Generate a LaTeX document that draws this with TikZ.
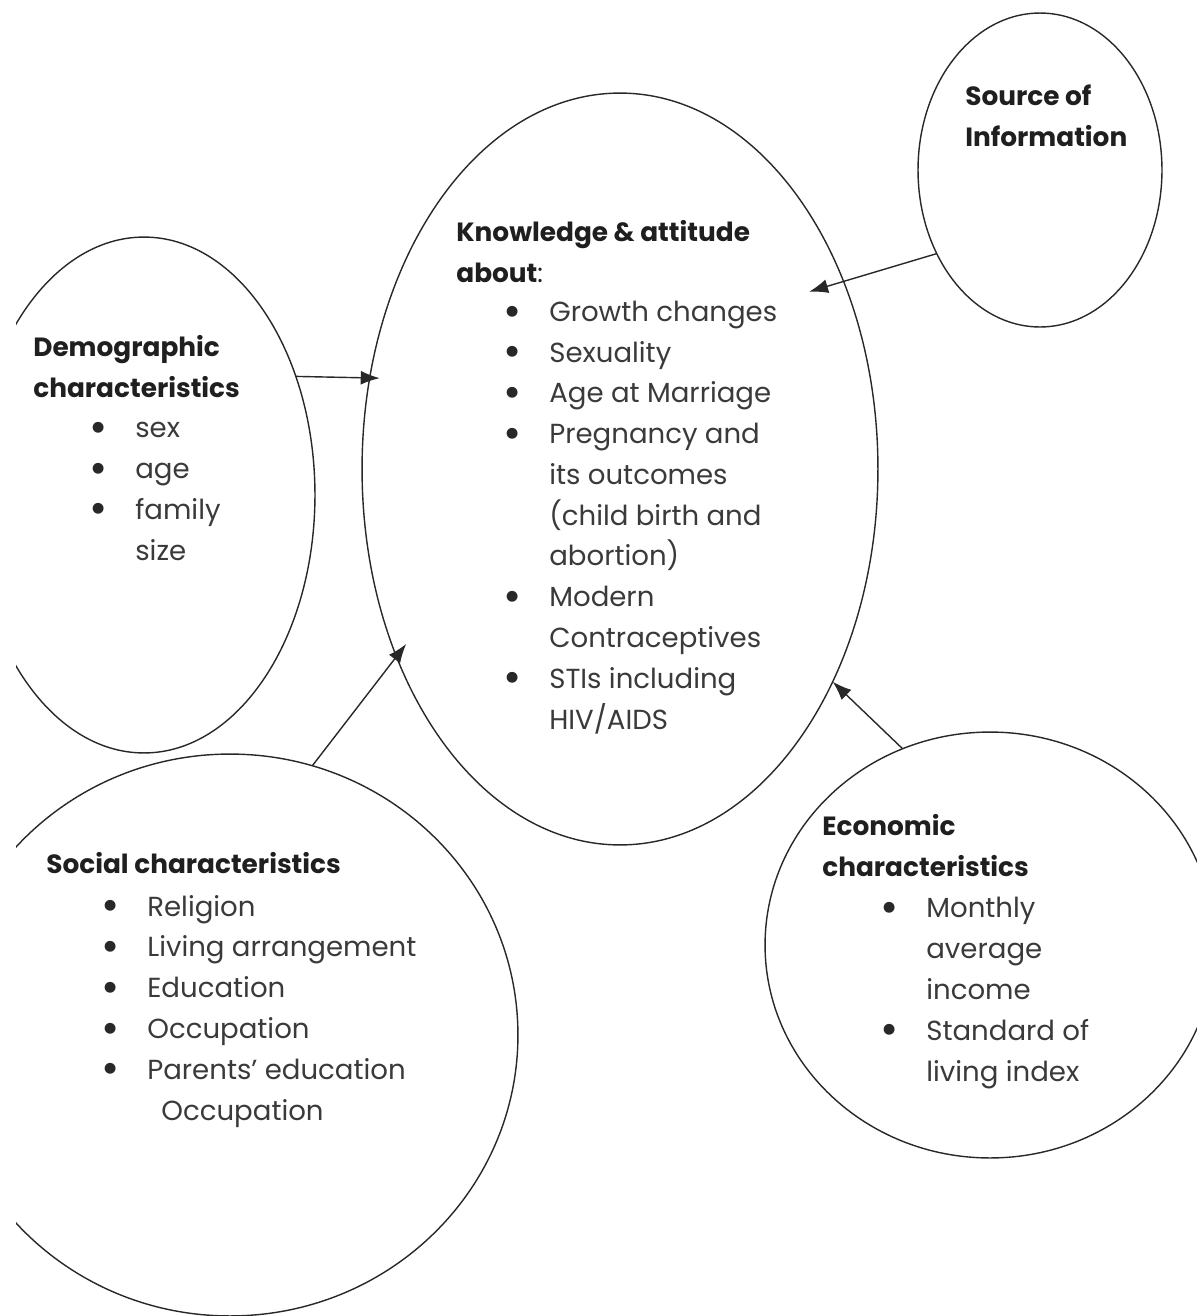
\documentclass[tikz,border=0pt]{standalone}
\usepackage{fontspec}
\setmainfont{Poppins}
\usetikzlibrary{shapes.geometric, arrows.meta}
\definecolor{inkgray}{RGB}{40,40,40}
\definecolor{txtgray}{RGB}{58,58,58}
% bullet column and continuation indent
\newcommand{\bl}{\makebox[0.92cm][l]{\raisebox{-0.17em}{\scalebox{1.6}{\textcolor{inkgray}{\textbullet}}}}}
\newcommand{\cl}{\hspace*{0.92cm}}

\begin{document}
\begin{tikzpicture}[x=0.02cm, y=-0.02cm,
  bubble/.style={ellipse, draw=inkgray, line width=0.8pt, inner sep=0pt, outer sep=0pt},
  head/.style={anchor=base west, inner sep=0pt, align=left, text=black!88, font=\fontsize{15}{23.2}\selectfont\bfseries},
  items/.style={anchor=base west, inner sep=0pt, align=left, text=txtgray, font=\fontsize{15.7}{23.2}\selectfont},
  arr/.style={draw=inkgray, line width=0.8pt, -{Latex[length=0.38cm, width=0.28cm]}}
]
  \useasboundingbox (0,0) rectangle (1197,1316);

  % the five bubbles, cut at the left margin
  \begin{scope}
    \clip (16,0) rectangle (1197,1316);
    \node[bubble, minimum width=10.32cm, minimum height=15.04cm] (know) at (620,469) {};
    \node[bubble, minimum width=4.88cm, minimum height=6.28cm] (source) at (1040,170) {};
    \node[bubble, minimum width=6.84cm, minimum height=10.32cm] (demog) at (144,495) {};
    \node[bubble, minimum width=11.52cm, minimum height=11.24cm] (social) at (230,1035) {};
    \node[bubble, minimum width=9.0cm, minimum height=8.52cm] (econ) at (990,945) {};
  \end{scope}

  % texts (placed by the baseline of their last line)
  \node[head] (knowhead) at (456,282) {Knowledge \& attitude\\about{\mdseries:}};
  \node[items] (knowlist) at (503,729) {\bl Growth changes\\\bl Sexuality\\\bl Age at Marriage\\\bl Pregnancy and\\\cl its outcomes\\\cl (child birth and\\\cl abortion)\\\bl Modern\\\cl Contraceptives\\\bl STIs including\\\cl HIV/AIDS};

  \node[head] (srchead) at (965,146) {Source of\\Information};

  \node[head] (demohead) at (33,397) {Demographic\\characteristics};
  \node[items] (demolist) at (89,560) {\bl sex\\\bl age\\\bl family\\\cl size};

  \node[head] (sochead) at (46,873) {Social characteristics};
  \node[items] (soclist) at (101,1120) {\bl Religion\\\bl Living arrangement\\\bl Education\\\bl Occupation\\\bl Parents' education\\\cl\hspace*{8pt}Occupation};

  \node[head] (ecohead) at (822,876) {Economic\\characteristics};
  \node[items] (ecolist) at (880,1081) {\bl Monthly\\\cl average\\\cl income\\\bl Standard of\\\cl living index};

  % arrows into the knowledge bubble
  \draw[arr, shorten >=-0.2cm] (demog.38) -- (know.160);
  \draw[arr, shorten >=-0.32cm] (social.73) -- (know.220);
  \draw[arr] (econ.114) -- (know.315);
  \draw[arr, shorten >=-0.72cm] (source.219) -- (know.40);
\end{tikzpicture}
\end{document}
